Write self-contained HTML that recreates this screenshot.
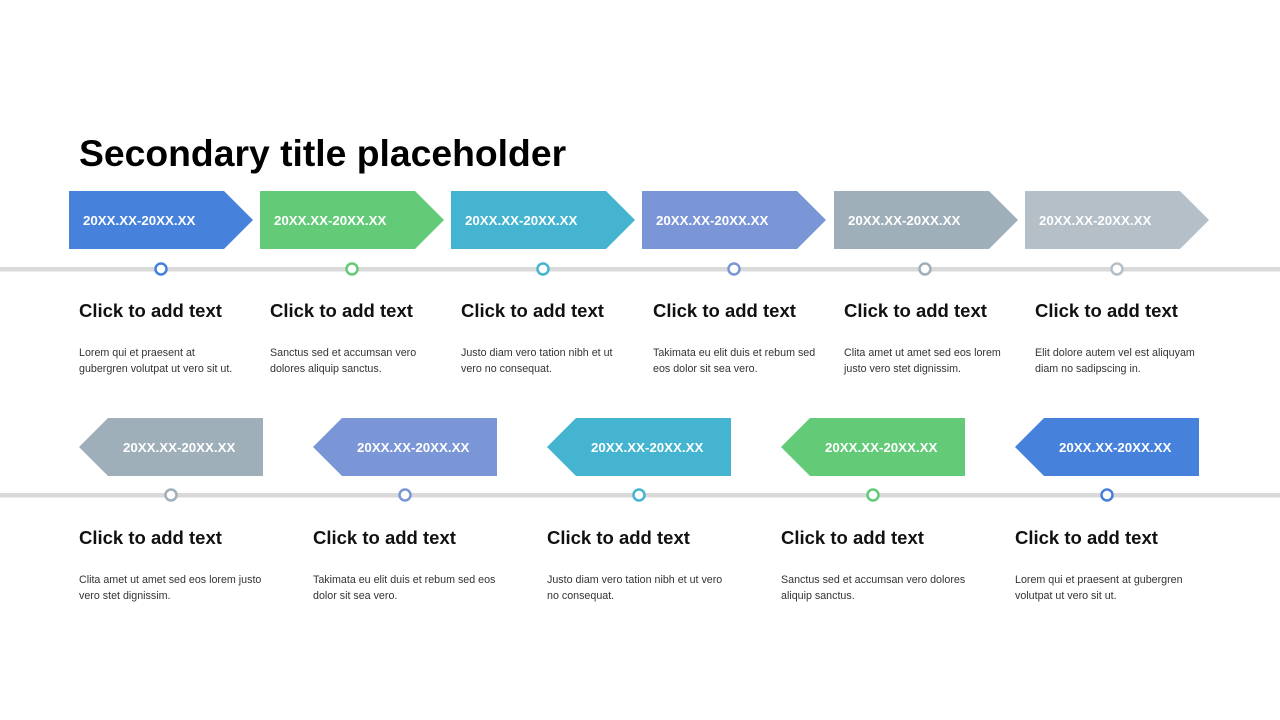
<!DOCTYPE html>
<html><head><meta charset="utf-8"><style>
html,body{margin:0;padding:0;background:#fff;}
svg{display:block;font-family:"Liberation Sans",Arial,sans-serif;}
.d{font-size:13.3px;font-weight:bold;fill:#fff;}
.h{font-size:18.5px;font-weight:bold;fill:#111;}
.b{font-size:10.7px;fill:#333;}
</style></head><body>
<svg width="1280" height="720" viewBox="0 0 1280 720">
<text x="79" y="166" font-size="37.3" font-weight="bold" fill="#000">Secondary title placeholder</text>
<rect x="0" y="267" width="1280" height="4.5" fill="#d9d9d9"/>
<rect x="0" y="493" width="1280" height="4.5" fill="#d9d9d9"/>
<g id="top">
<polygon points="69,191 224,191 253,220 224,249 69,249" fill="#4682dc"/>
<polygon points="260,191 415,191 444,220 415,249 260,249" fill="#63cb78"/>
<polygon points="451,191 606,191 635,220 606,249 451,249" fill="#45b4d0"/>
<polygon points="642,191 797,191 826,220 797,249 642,249" fill="#7b96d6"/>
<polygon points="834,191 989,191 1018,220 989,249 834,249" fill="#9fafb9"/>
<polygon points="1025,191 1180,191 1209,220 1180,249 1025,249" fill="#b5bfc7"/>
<g class="d"><text x="83" y="225">20XX.XX-20XX.XX</text><text x="274" y="225">20XX.XX-20XX.XX</text><text x="465" y="225">20XX.XX-20XX.XX</text><text x="656" y="225">20XX.XX-20XX.XX</text><text x="848" y="225">20XX.XX-20XX.XX</text><text x="1039" y="225">20XX.XX-20XX.XX</text></g>
<g fill="#fff" stroke-width="2.5">
<circle cx="161" cy="269" r="5.5" stroke="#4682dc"/><circle cx="352" cy="269" r="5.5" stroke="#63cb78"/><circle cx="543" cy="269" r="5.5" stroke="#45b4d0"/><circle cx="734" cy="269" r="5.5" stroke="#7b96d6"/><circle cx="925" cy="269" r="5.5" stroke="#9fafb9"/><circle cx="1117" cy="269" r="5.5" stroke="#b5bfc7"/>
</g>
<g class="h"><text x="79" y="317">Click to add text</text><text x="270" y="317">Click to add text</text><text x="461" y="317">Click to add text</text><text x="653" y="317">Click to add text</text><text x="844" y="317">Click to add text</text><text x="1035" y="317">Click to add text</text></g>
<g class="b">
<text x="79" y="356">Lorem qui et praesent at</text><text x="79" y="372">gubergren volutpat ut vero sit ut.</text>
<text x="270" y="356">Sanctus sed et accumsan vero</text><text x="270" y="372">dolores aliquip sanctus.</text>
<text x="461" y="356">Justo diam vero tation nibh et ut</text><text x="461" y="372">vero no consequat.</text>
<text x="653" y="356">Takimata eu elit duis et rebum sed</text><text x="653" y="372">eos dolor sit sea vero.</text>
<text x="844" y="356">Clita amet ut amet sed eos lorem</text><text x="844" y="372">justo vero stet dignissim.</text>
<text x="1035" y="356">Elit dolore autem vel est aliquyam</text><text x="1035" y="372">diam no sadipscing in.</text>
</g>
</g>
<g>
<polygon points="79,447 108,418 263,418 263,476 108,476" fill="#9fafb9"/>
<polygon points="313,447 342,418 497,418 497,476 342,476" fill="#7b96d6"/>
<polygon points="547,447 576,418 731,418 731,476 576,476" fill="#45b4d0"/>
<polygon points="781,447 810,418 965,418 965,476 810,476" fill="#63cb78"/>
<polygon points="1015,447 1044,418 1199,418 1199,476 1044,476" fill="#4682dc"/>
<g class="d"><text x="123" y="452">20XX.XX-20XX.XX</text><text x="357" y="452">20XX.XX-20XX.XX</text><text x="591" y="452">20XX.XX-20XX.XX</text><text x="825" y="452">20XX.XX-20XX.XX</text><text x="1059" y="452">20XX.XX-20XX.XX</text></g>
<g fill="#fff" stroke-width="2.5">
<circle cx="171" cy="495" r="5.5" stroke="#9fafb9"/><circle cx="405" cy="495" r="5.5" stroke="#7b96d6"/><circle cx="639" cy="495" r="5.5" stroke="#45b4d0"/><circle cx="873" cy="495" r="5.5" stroke="#63cb78"/><circle cx="1107" cy="495" r="5.5" stroke="#4682dc"/>
</g>
<g class="h"><text x="79" y="544">Click to add text</text><text x="313" y="544">Click to add text</text><text x="547" y="544">Click to add text</text><text x="781" y="544">Click to add text</text><text x="1015" y="544">Click to add text</text></g>
<g class="b">
<text x="79" y="583">Clita amet ut amet sed eos lorem justo</text><text x="79" y="599">vero stet dignissim.</text>
<text x="313" y="583">Takimata eu elit duis et rebum sed eos</text><text x="313" y="599">dolor sit sea vero.</text>
<text x="547" y="583">Justo diam vero tation nibh et ut vero</text><text x="547" y="599">no consequat.</text>
<text x="781" y="583">Sanctus sed et accumsan vero dolores</text><text x="781" y="599">aliquip sanctus.</text>
<text x="1015" y="583">Lorem qui et praesent at gubergren</text><text x="1015" y="599">volutpat ut vero sit ut.</text>
</g>
</g>
</svg>
</body></html>
